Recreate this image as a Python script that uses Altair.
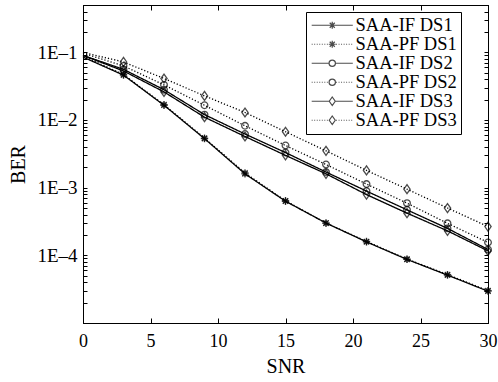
import altair as alt
import pandas as pd

# ---------------- data ----------------
snr = [0, 3, 6, 9, 12, 15, 18, 21, 24, 27, 30]
series = ["SAA-IF DS1", "SAA-PF DS1", "SAA-IF DS2", "SAA-PF DS2", "SAA-IF DS3", "SAA-PF DS3"]
if_ds1 = [0.085, 0.046, 0.0165, 0.0053, 0.0016, 0.00063, 0.00030, 0.000158, 0.000087, 0.000051, 0.0000295]
pf_ds1 = [0.088, 0.047, 0.0168, 0.0054, 0.00165, 0.00064, 0.00030, 0.00016, 0.000088, 0.000052, 0.000030]
if_ds2 = [0.090, 0.056, 0.028, 0.012, 0.0062, 0.0033, 0.0017, 0.00089, 0.00047, 0.00025, 0.000122]
pf_ds2 = [0.097, 0.063, 0.033, 0.0165, 0.0082, 0.0042, 0.0022, 0.00113, 0.00059, 0.000297, 0.000155]
if_ds3 = [0.090, 0.053, 0.026, 0.011, 0.0057, 0.0030, 0.0016, 0.00079, 0.00042, 0.00023, 0.000116]
pf_ds3 = [0.100, 0.072, 0.041, 0.0227, 0.0129, 0.0067, 0.0035, 0.0018, 0.00095, 0.00050, 0.000266]
x_ticks = [0, 5, 10, 15, 20, 25, 30]

all_vals = [if_ds1, pf_ds1, if_ds2, pf_ds2, if_ds3, pf_ds3]
rows = []
for name, vals in zip(series, all_vals):
    for x, v in zip(snr, vals):
        rows.append({"SNR": x, "BER": v, "series": name})
df = pd.DataFrame(rows)

# ---------------- styling ----------------
FONT = "Liberation Serif"
circle = "M-1,0A1,1,0,1,1,1,0A1,1,0,1,1,-1,0Z"
diamond = "M0,-1.35L0.95,0L0,1.35L-0.95,0Z"
star = "M-1.1,0L1.1,0M0,-1.1L0,1.1M-0.8,-0.8L0.8,0.8M-0.8,0.8L0.8,-0.8"
markers = [star, star, circle, circle, diamond, diamond]


def solid_line(through):
    return "M-6.5,0L6.5,0" if through else "M-6.5,0L-1,0M1,0L6.5,0"


def dotted_line(through):
    parts = []
    a = -6.5
    while a < -1.0:
        parts.append(f"M{a:.2f},0L{a + 0.3:.2f},0")
        a += 0.8
    a = 1.2
    while a < 6.5:
        parts.append(f"M{a:.2f},0L{a + 0.3:.2f},0")
        a += 0.8
    return "".join(parts)


legend_paths = []
for i, m in enumerate(markers):
    through = (m == star)
    line = solid_line(through) if i % 2 == 0 else dotted_line(through)
    legend_paths.append(m + line)

dashes = [[1, 0], [1.2, 2], [1, 0], [1.2, 2], [1, 0], [1.2, 2]]

y_ticks = []
for e in range(-5, 0):
    for k in range(1, 10):
        v = k * 10 ** e
        if v <= 0.5:
            y_ticks.append(v)

xscale = alt.Scale(domain=[0, 30], nice=False, zero=False)
yscale = alt.Scale(type="log", domain=[1e-5, 0.5], nice=False)

label_expr = ("abs(log(datum.value)/LN10 - round(log(datum.value)/LN10)) < 0.001 && datum.value > 0.00005"
              " ? '1E\u2013' + (-round(log(datum.value)/LN10)) : ''")

base = alt.Chart(df)

lines = base.mark_line(color="black", strokeWidth=1.3).encode(
    x=alt.X("SNR:Q", scale=xscale,
            axis=alt.Axis(orient="bottom", values=x_ticks, title="SNR", grid=False,
                          tickSize={"expr": "-5"}, labelPadding=14, titlePadding=6,
                          labelFontSize=18, labelFlush=False)),
    y=alt.Y("BER:Q", scale=yscale,
            axis=alt.Axis(orient="left", values=y_ticks, title="BER", grid=False,
                          tickSize={"expr": "-4"}, labelPadding=10, labelExpr=label_expr,
                          labelOverlap=False, labelFontSize=19, titlePadding=8)),
    strokeDash=alt.StrokeDash("series:N", scale=alt.Scale(domain=series, range=dashes), legend=None),
    detail="series:N",
)

points = base.transform_filter("datum.SNR > 0").mark_point(
    color="black", filled=False, size=44, strokeWidth=1.3
).encode(
    x=alt.X("SNR:Q", scale=xscale,
            axis=alt.Axis(orient="top", values=x_ticks, title=None, labels=False, grid=False,
                          tickSize={"expr": "-5"})),
    y=alt.Y("BER:Q", scale=yscale,
            axis=alt.Axis(orient="right", values=y_ticks, title=None, labels=False, grid=False,
                          tickSize={"expr": "-4"})),
    shape=alt.Shape("series:N", scale=alt.Scale(domain=series, range=markers), legend=None),
)

legend_layer = base.transform_filter("false").mark_point(
    color="black", filled=False, size=44, strokeWidth=1.3
).encode(
    x=alt.X("SNR:Q", scale=xscale, axis=None),
    y=alt.Y("BER:Q", scale=yscale, axis=None),
    shape=alt.Shape("series:N", scale=alt.Scale(domain=series, range=legend_paths),
                    legend=alt.Legend(orient="none", legendX=223, legendY=7, title=None,
                                      strokeColor="black", fillColor="white", padding=4,
                                      labelFont=FONT, labelFontSize=18.5, labelColor="black",
                                      symbolSize=40, symbolOffset=13, labelOffset=14,
                                      rowPadding=0,
                                      symbolStrokeColor="black", symbolStrokeWidth=1.2)),
)

chart = alt.layer(lines, points, legend_layer).resolve_scale(
    shape="independent"
).resolve_axis(
    x="independent", y="independent"
).properties(
    width=405, height=318,
    padding={"left": 83, "top": 5, "right": 10, "bottom": 59},
    autosize=alt.AutoSizeParams(type="none"),
).configure_view(
    stroke="black", strokeWidth=1
).configure_axis(
    labelFont=FONT, titleFont=FONT, labelColor="black", titleColor="black",
    titleFontSize=20, titleFontWeight="normal", domainColor="black", tickColor="black",
    domainWidth=1, tickWidth=1,
)

chart.save("out.html", embed_options={"renderer": "svg", "actions": False})
